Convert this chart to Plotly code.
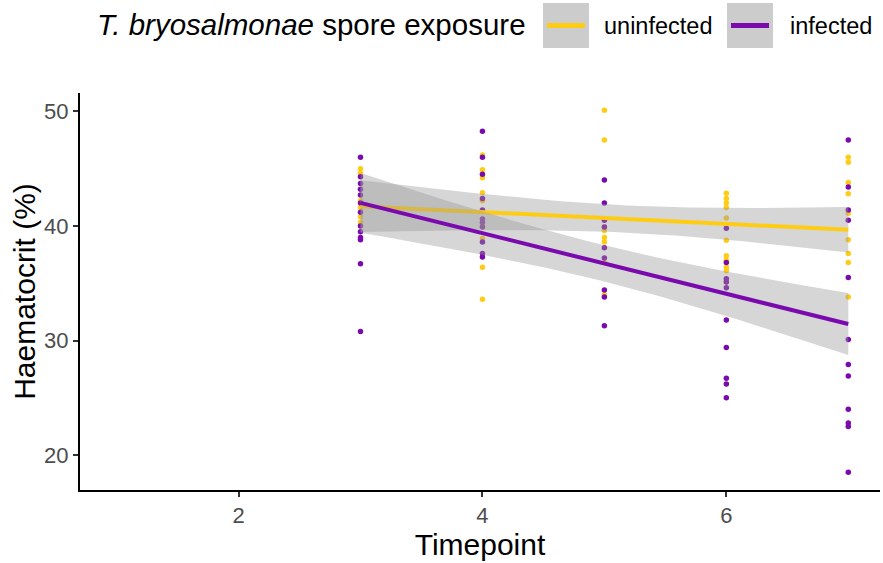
import numpy as np
import plotly.graph_objects as go

# ---- data ----
unin_x = [3]*6 + [4]*9 + [5]*8 + [6]*11 + [7]*9
unin_y = [45.0, 44.6, 42.2, 41.6, 40.8, 40.3,
          46.2, 44.9, 44.2, 42.9, 42.2, 40.0, 38.9, 36.4, 33.6,
          50.1, 47.5, 39.9, 39.6, 39.0, 38.6, 36.8, 34.0,
          42.85, 42.4, 42.0, 41.6, 40.7, 38.75, 37.4, 37.0, 36.4, 36.1, 35.1,
          46.0, 45.55, 43.8, 42.8, 41.1, 38.8, 37.6, 36.8, 33.8]
inf_x = [3]*13 + [4]*11 + [5]*9 + [6]*10 + [7]*12
inf_y = [46.0, 44.3, 43.7, 43.2, 42.7, 42.0, 41.2, 40.0, 39.5, 39.0, 38.8, 36.7, 30.8,
         48.26, 46.0, 44.5, 42.4, 41.4, 40.6, 40.3, 39.9, 38.6, 37.6, 37.3,
         44.0, 42.0, 40.5, 39.9, 38.1, 37.2, 34.4, 33.8, 31.3,
         39.8, 36.8, 35.4, 35.1, 34.6, 31.8, 29.4, 26.7, 26.2, 25.0,
         47.5, 43.4, 41.4, 40.5, 35.5, 30.1, 27.9, 26.9, 24.0, 22.8, 22.5, 18.5]
groups = ["uninfected", "infected"]
colors = {"uninfected": "#FFCC14", "infected": "#7B0AAE"}
x_ticks = [2, 4, 6]
y_ticks = [20, 30, 40, 50]

def t975(df):
    z = 1.959964
    return z + (z**3 + z) / (4*df) + (5*z**5 + 16*z**3 + 3*z) / (96*df**2)

def lm_fit(x, y, xs):
    x = np.asarray(x, float); y = np.asarray(y, float)
    n = len(x)
    b, a = np.polyfit(x, y, 1)
    res = y - (a + b*x)
    s = np.sqrt(np.sum(res**2) / (n - 2))
    xm = x.mean(); sxx = np.sum((x - xm)**2)
    fit = a + b*xs
    se = s*np.sqrt(1/n + (xs - xm)**2 / sxx)
    t = t975(n - 2)
    return fit, fit - t*se, fit + t*se

data = {"uninfected": (unin_x, unin_y), "infected": (inf_x, inf_y)}

fig = go.Figure()
for g in groups:
    x, y = data[g]
    fig.add_trace(go.Scatter(x=x, y=y, mode="markers",
                             marker=dict(color=colors[g], size=5.5, line=dict(width=0)),
                             showlegend=False, hoverinfo="skip"))
for g in groups:
    x, y = data[g]
    xs = np.linspace(min(x), max(x), 80)
    fit, lo, hi = lm_fit(x, y, xs)
    fig.add_trace(go.Scatter(x=np.concatenate([xs, xs[::-1]]),
                             y=np.concatenate([hi, lo[::-1]]),
                             fill="toself", fillcolor="rgba(153,153,153,0.4)",
                             line=dict(width=0), mode="lines",
                             showlegend=False, hoverinfo="skip"))
    fig.add_trace(go.Scatter(x=xs, y=fit, mode="lines",
                             line=dict(color=colors[g], width=4),
                             showlegend=False, hoverinfo="skip"))

# plot-area geometry in pixels
L, R, T, B = 80, 880, 93, 490
W, H = 883, 563
def px(xp): return (xp - L) / (R - L)
def py(yp): return (B - yp) / (B - T)

font = "Arial, Liberation Sans, sans-serif"
shapes = []
ann = []
ann.append(dict(x=px(528), y=py(25), xref="paper", yref="paper", xanchor="right", yanchor="middle",
                text="<i>T. bryosalmonae</i> spore exposure", showarrow=False,
                font=dict(family=font, size=29.5, color="black")))
for g, bx, tx in [("uninfected", 543, 602), ("infected", 727, 788)]:
    shapes.append(dict(type="rect", xref="paper", yref="paper",
                       x0=px(bx), x1=px(bx + 46), y0=py(48), y1=py(3),
                       fillcolor="#CCCCCC", line=dict(width=0)))
    shapes.append(dict(type="line", xref="paper", yref="paper",
                       x0=px(bx + 4), x1=px(bx + 42), y0=py(25.5), y1=py(25.5),
                       line=dict(color=colors[g], width=5)))
    ann.append(dict(x=px(tx), y=py(26), xref="paper", yref="paper", xanchor="left", yanchor="middle",
                    text=g, showarrow=False, font=dict(family=font, size=23.5, color="black")))

fig.update_layout(
    width=W, height=H, plot_bgcolor="white", paper_bgcolor="white",
    margin=dict(l=L, r=W - R, t=T, b=H - B),
    font=dict(family=font),
    shapes=shapes, annotations=ann, showlegend=False,
    xaxis=dict(range=[0.7, 7.26], tickvals=x_ticks, ticktext=[str(v) for v in x_ticks],
               showgrid=False, zeroline=False, showline=True, linecolor="black", linewidth=2,
               ticks="outside", ticklen=5, tickwidth=1.5, tickcolor="#333333",
               tickfont=dict(size=22, color="#4D4D4D"),
               title=dict(text="Timepoint", font=dict(size=30, color="black"), standoff=6)),
    yaxis=dict(range=[16.96, 51.6], tickvals=y_ticks, ticktext=[str(v) for v in y_ticks],
               showgrid=False, zeroline=False, showline=True, linecolor="black", linewidth=2,
               ticks="outside", ticklen=5, tickwidth=1.5, tickcolor="#333333",
               tickfont=dict(size=22, color="#4D4D4D"),
               title=dict(text="Haematocrit (%)", font=dict(size=30, color="black"), standoff=0)),
)
fig.write_html("out.html")
